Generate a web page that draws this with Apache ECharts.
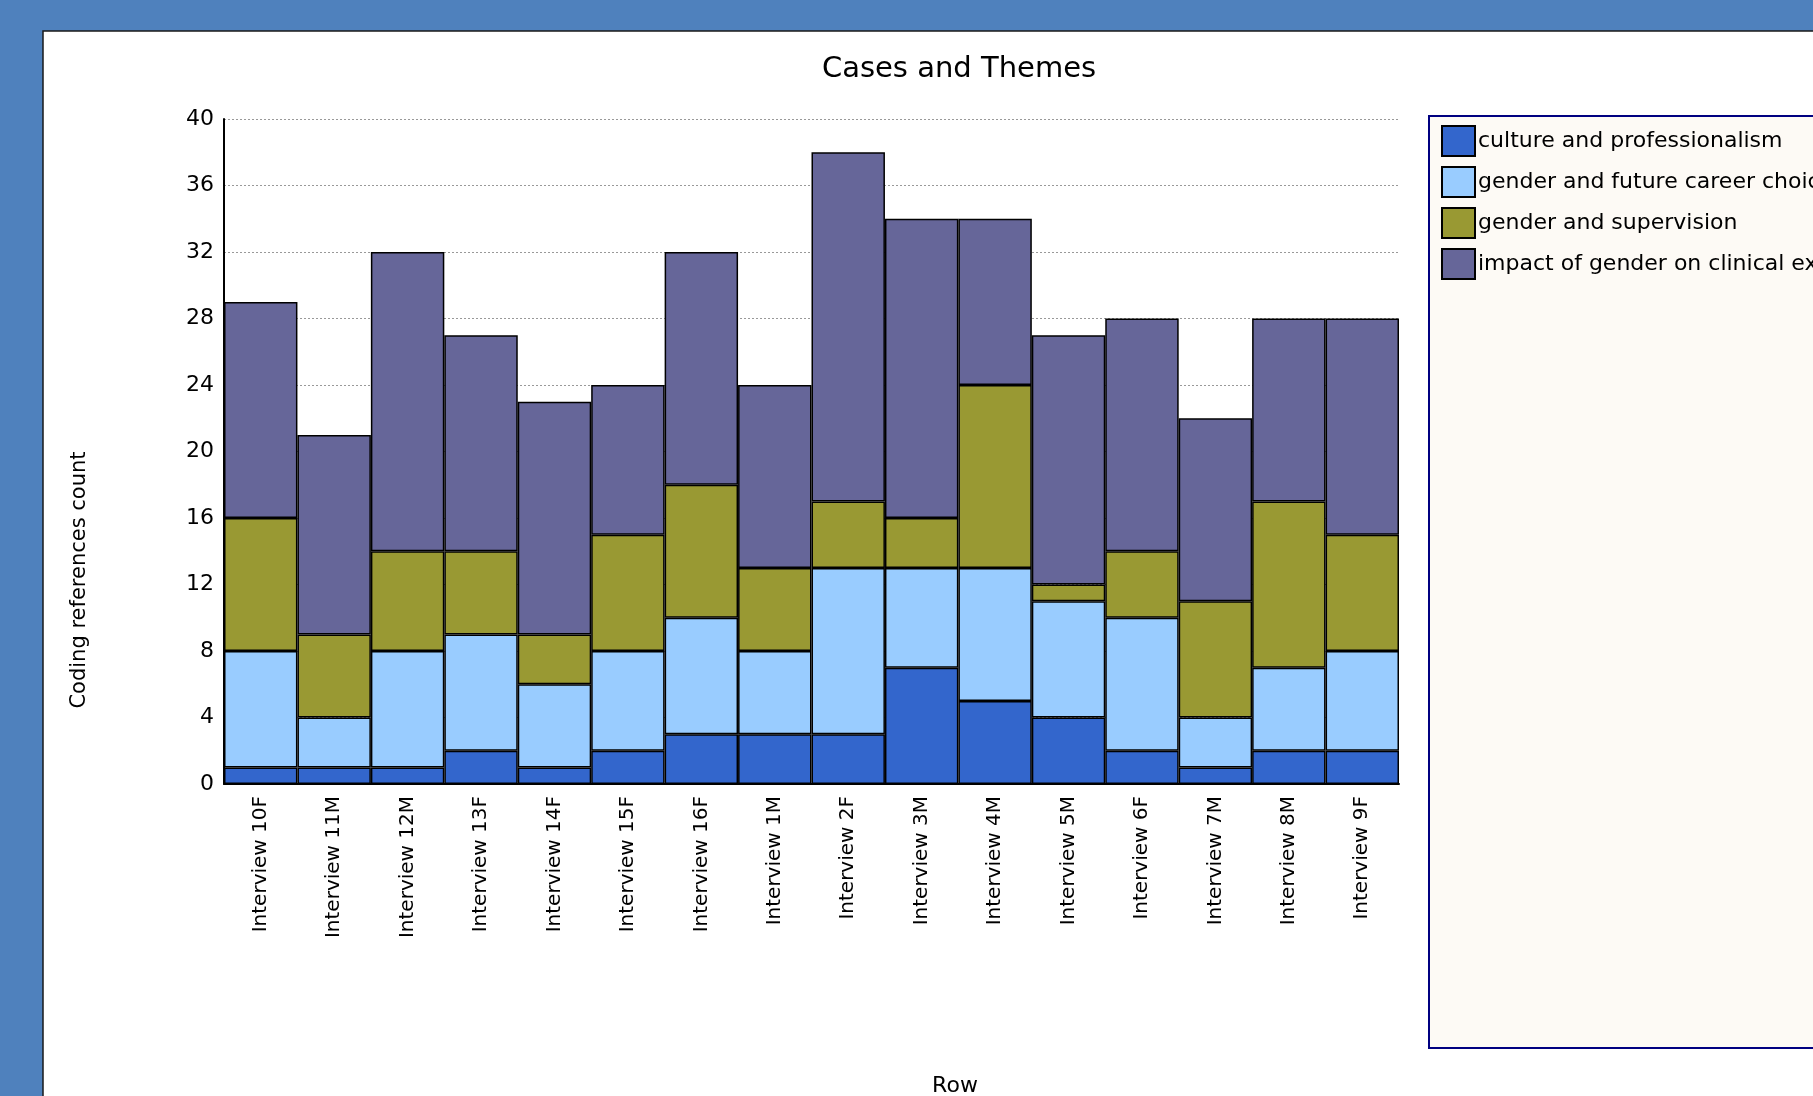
<!DOCTYPE html>
<html>
<head>
<meta charset="utf-8">
<script src="https://cdn.jsdelivr.net/npm/echarts@6/dist/echarts.min.js"></script>
<style>
html,body{margin:0;padding:0;background:#4F81BD;}
#chart{width:1813px;height:1096px;}
</style>
</head>
<body>
<div id="chart"></div>
<script>
const categories = ['Interview 10F','Interview 11M','Interview 12M','Interview 13F','Interview 14F','Interview 15F','Interview 16F','Interview 1M','Interview 2F','Interview 3M','Interview 4M','Interview 5M','Interview 6F','Interview 7M','Interview 8M','Interview 9F'];
const seriesNames = ['culture and professionalism','gender and future career choices','gender and supervision','impact of gender on clinical experiences'];
const culture     = [1,1,1,2,1,2,3,3,3,7,5,4,2,1,2,2];
const career      = [7,3,7,7,5,6,7,5,10,6,8,7,8,3,5,6];
const supervision = [8,5,6,5,3,7,8,5,4,3,11,1,4,7,10,7];
const impact      = [13,12,18,13,14,9,14,11,21,18,10,15,14,11,11,13];
const colors = ['#3366CC','#99CCFF','#999933','#666699'];
const yTicks = {min:0, max:40, interval:4};

const FONT = 'DejaVu Sans';
const chart = echarts.init(document.getElementById('chart'), null, {renderer:'canvas'});
const values = [culture, career, supervision, impact];
const series = values.map((d,i)=>({
  name: seriesNames[i],
  type: 'bar',
  stack: 'total',
  data: d,
  barCategoryGap: '0%',
  itemStyle: {color: colors[i], borderColor: '#000', borderWidth: 1.5},
  emphasis: {disabled: true}
}));
chart.setOption({
  animation: false,
  backgroundColor: '#4F81BD',
  graphic: [
    {type:'rect', z:-10, shape:{x:43, y:31, width:1900, height:1200}, style:{fill:'#ffffff', stroke:'#1a1a1a', lineWidth:1.5}},
    {type:'rect', z:-5, shape:{x:1429, y:116, width:600, height:932}, style:{fill:'#FDFAF5', stroke:'#000080', lineWidth:2}},
    {type:'text', z:5, x:80, y:580, rotation:Math.PI/2, style:{text:'Coding references count', font:'21px "DejaVu Sans"', fill:'#000', textAlign:'center', textVerticalAlign:'middle'}},
    {type:'text', z:5, x:955, y:1086, style:{text:'Row', font:'22px "DejaVu Sans"', fill:'#000', textAlign:'center', textVerticalAlign:'middle'}}
  ],
  title: {
    text: 'Cases and Themes',
    left: 954, top: 50, textAlign: 'center',
    textStyle: {fontFamily: FONT, fontSize: 29, fontWeight: 'normal', color: '#000'}
  },
  legend: {
    orient: 'vertical',
    left: 1441, top: 125, padding: 0,
    itemWidth: 33, itemHeight: 30, itemGap: 9,
    icon: 'rect',
    data: seriesNames,
    textStyle: {fontFamily: FONT, fontSize: 22, color: '#000', padding: [0,0,0,-2]},
    selectedMode: false
  },
  grid: {left: 224, right: 414, top: 119, bottom: 312, containLabel: false},
  xAxis: {
    type: 'category',
    data: categories,
    axisLine: {show: true, lineStyle: {color: '#000', width: 2}},
    axisTick: {show: false},
    axisLabel: {rotate: 90, interval: 0, margin: 12, fontFamily: FONT, fontSize: 20, color: '#000'}
  },
  yAxis: {
    type: 'value',
    min: yTicks.min, max: yTicks.max, interval: yTicks.interval,
    axisLine: {show: true, lineStyle: {color: '#000', width: 2}},
    axisTick: {show: false},
    axisLabel: {margin: 10, fontFamily: FONT, fontSize: 22, color: '#000', padding: [3,0,0,0]},
    splitLine: {show: true, lineStyle: {color: '#999', type: [2,2], width: 1}}
  },
  series: series
});
</script>
</body>
</html>
